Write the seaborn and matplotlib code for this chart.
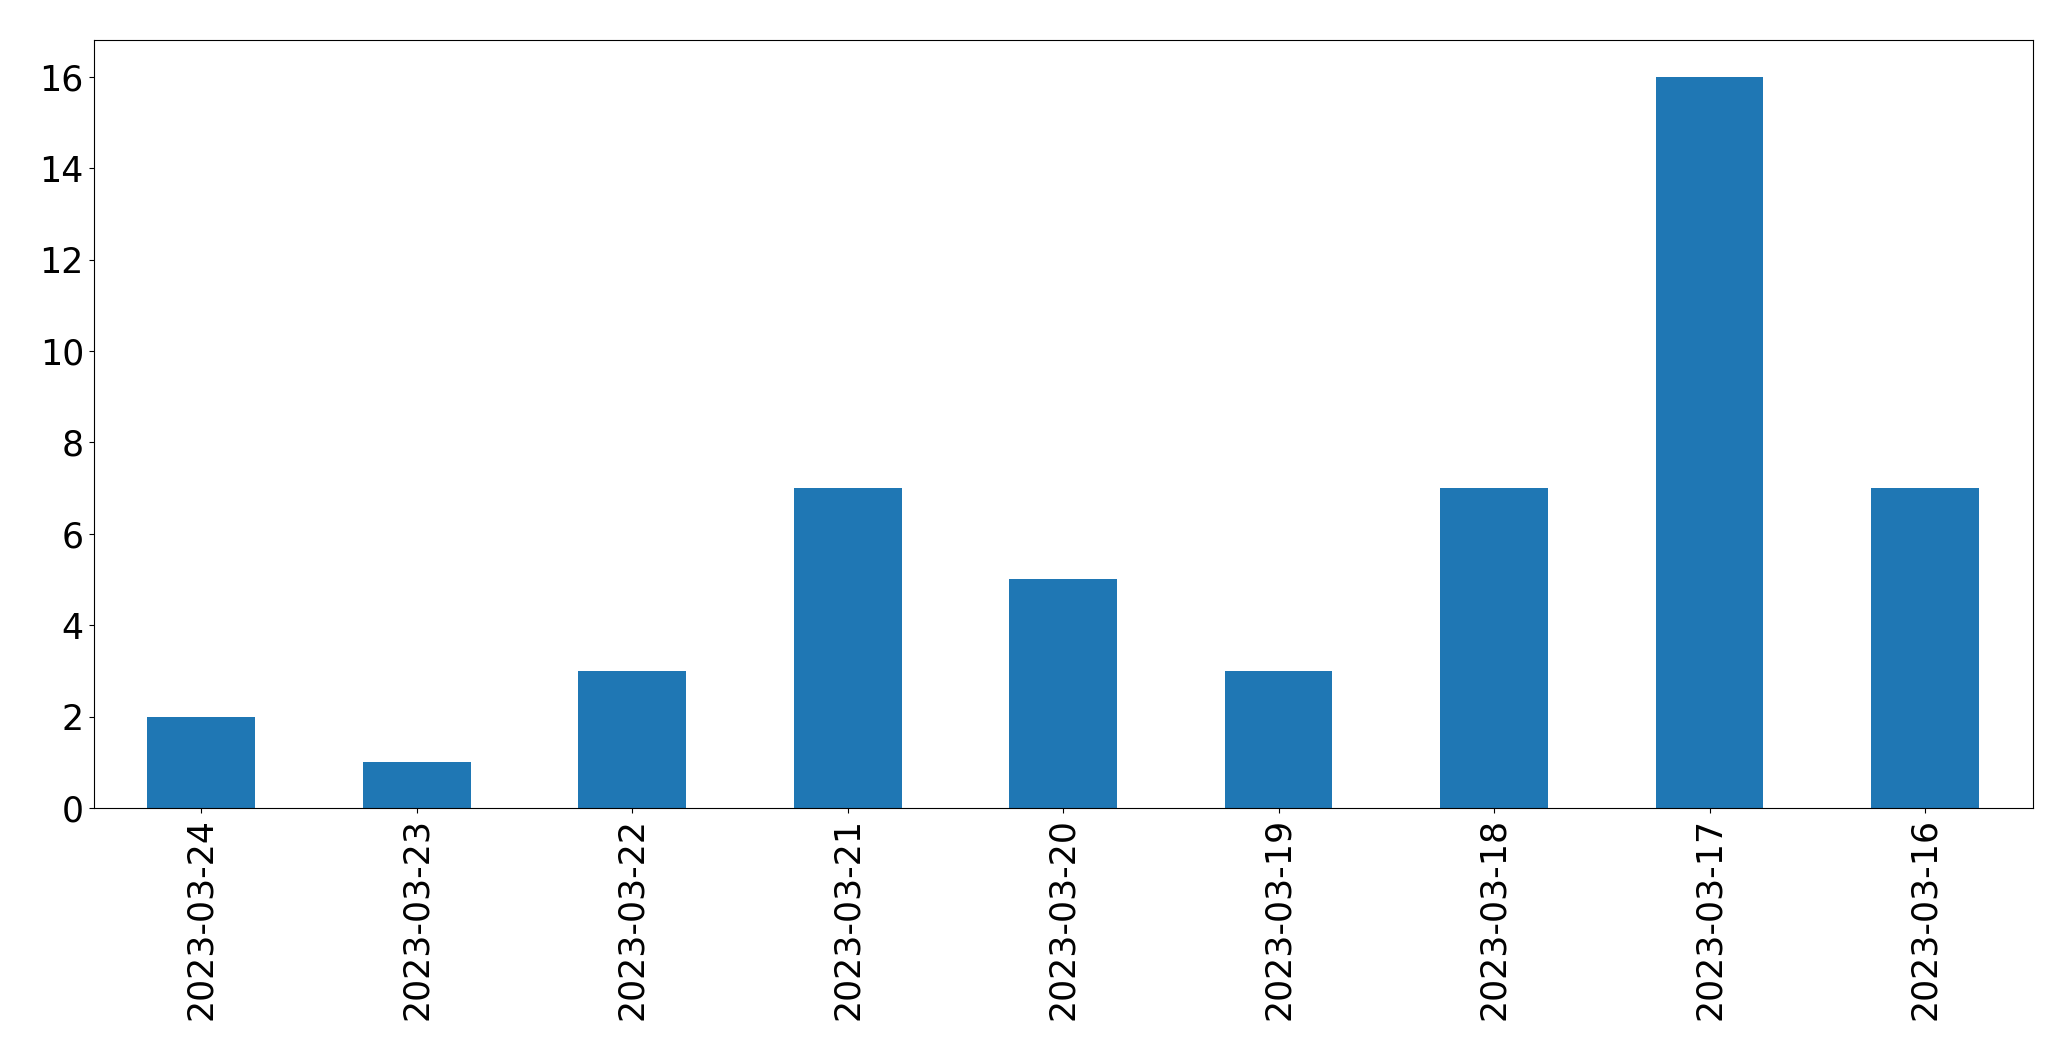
import pandas as pd
import matplotlib
matplotlib.use("Agg")
import matplotlib.pyplot as plt
import seaborn as sns

dates = ["2023-03-24", "2023-03-23", "2023-03-22", "2023-03-21", "2023-03-20",
         "2023-03-19", "2023-03-18", "2023-03-17", "2023-03-16"]
counts = [2, 1, 3, 7, 5, 3, 7, 16, 7]

df = pd.DataFrame({"date": dates, "count": counts})

plt.rcParams.update({'font.size': 25})
fig, ax = plt.subplots(figsize=(20.71, 10.61), dpi=100)
sns.barplot(x="date", y="count", data=df, color="#1f77b4", saturation=1,
            width=0.5, order=dates, ax=ax)
ax.set_xlim(-0.5, len(dates) - 0.5)
ax.set_ylim(0, max(counts) * 1.05)
ax.set_xlabel("")
ax.set_ylabel("")
ax.tick_params(axis="x", labelrotation=90)
plt.subplots_adjust(left=0.0452, right=0.9815, top=0.962, bottom=0.2385)
plt.savefig("out.png", dpi=100)
